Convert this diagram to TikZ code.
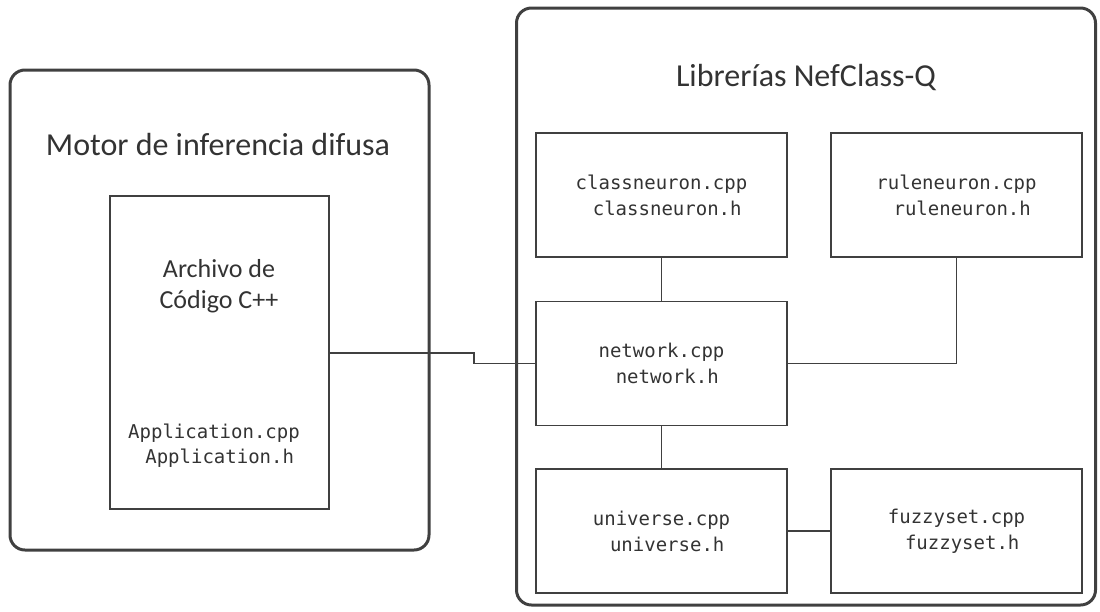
\documentclass[tikz,border=0pt]{standalone}
\usepackage{fontspec}
\setmainfont{Carlito}
\newfontfamily\codefont{DejaVu Sans Mono}
\begin{document}
\begin{tikzpicture}[x=1pt,y=-1pt,
  ink/.style={draw=black!75},
  group/.style={ink, line width=3pt, rounded corners=15pt, rectangle, inner sep=0pt},
  filebox/.style={ink, line width=1.8pt, rectangle, inner sep=0pt,
    minimum width=251pt, minimum height=124pt,
    font=\codefont\fontsize{19}{26}\selectfont, text=black!80, align=center},
  link/.style={ink, line width=1.8pt},
  title/.style={font=\fontsize{32}{36}\selectfont, text=black!80, anchor=base},
  caption/.style={font=\fontsize{26}{31}\selectfont, text=black!80, align=center}
]
\useasboundingbox (0,0) rectangle (1100,611);

% outer groups
\node[group, minimum width=419pt, minimum height=480pt] (motor) at (219.5,310) {};
\node[group, minimum width=579pt, minimum height=597pt] (libs) at (806,306.5) {};
\node[title] (motortitle) at (218,155) {Motor de inferencia difusa};
\node[title] (libstitle) at (806,86) {Librerías NefClass-Q};

% application source box (text anchors sit on the last baseline)
\node[ink, line width=1.8pt, rectangle, inner sep=0pt,
      minimum width=219pt, minimum height=313pt] (app) at (219.5,352.5) {};
\node[caption, anchor=base] (apptitle) at (219,308) {Archivo de\\Código C++};
\node[font=\codefont\fontsize{19}{25}\selectfont, text=black!80, align=center, anchor=base]
  (appfiles) at (214,463) {Application.cpp\\\hphantom{x}Application.h};

% library file boxes
\node[filebox] (classn) at (661.5,195) {classneuron.cpp\\\hphantom{x}classneuron.h};
\node[filebox] (rulen) at (956.5,195) {ruleneuron.cpp\\\hphantom{x}ruleneuron.h};
\node[filebox] (net) at (661.5,363.5) {network.cpp\\\hphantom{x}network.h};
\node[filebox] (univ) at (661.5,531) {universe.cpp\\\hphantom{x}universe.h};
\node[filebox] (fuzzy) at (956.5,531) {fuzzyset.cpp\\\hphantom{x}fuzzyset.h};

% connections
\draw[link] (app.east) ++(0,0.5) -- ++(144,0) |- (net.west);
\draw[link] (classn.south) -- (net.north);
\draw[link] (net.east) -| (rulen.south);
\draw[link] (net.south) -- (univ.north);
\draw[link] (univ.east) -- (fuzzy.west);
\end{tikzpicture}
\end{document}
